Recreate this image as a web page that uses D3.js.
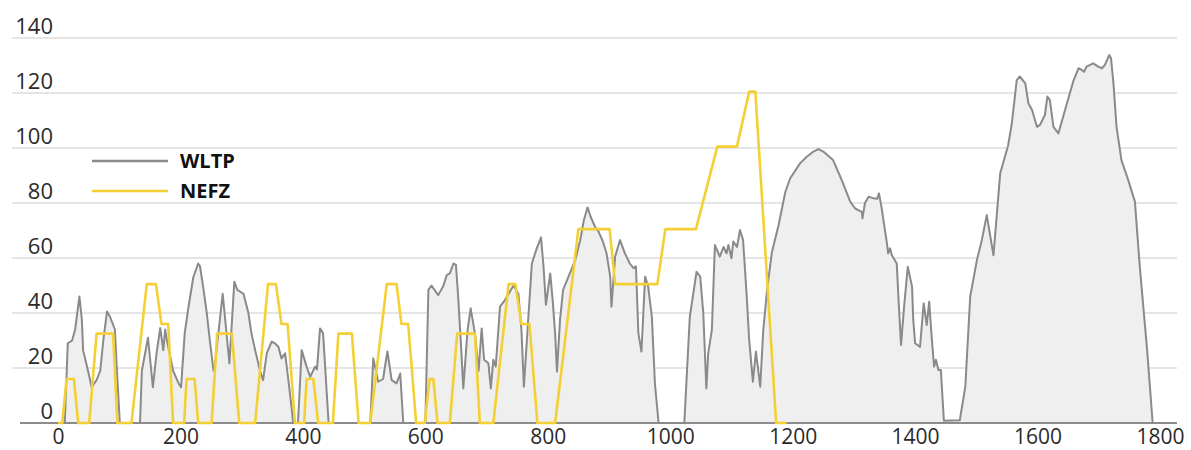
<!DOCTYPE html>
<html>
<head>
<meta charset="utf-8">
<script src="https://cdn.jsdelivr.net/npm/d3@7"></script>
<style>
  html, body { margin: 0; padding: 0; background: #fff; }
  svg { display: block; }
</style>
</head>
<body>
<svg id="chart" width="1191" height="450"></svg>
<script>
// ---- Data (time in s, speed in km/h) ----
const xTicks = [0, 200, 400, 600, 800, 1000, 1200, 1400, 1600, 1800];
const yTicks = [0, 20, 40, 60, 80, 100, 120, 140];
const seriesNames = ["WLTP", "NEFZ"];

const wltpT = [0,9,11,16,23,28,35,39,41,49,55,63,69,74,80,85,93,96,101,134,137,147,155,161,167,172,175,178,188,197,201,207,213,221,229,232,237,243,248,254,256,269,280,288,293,303,311,316,322,330,335,341,349,354,360,365,371,375,382,384,392,398,406,412,420,423,428,433,439,442,510,515,523,531,538,545,553,559,564,600,605,610,621,629,635,640,646,650,654,659,662,669,674,681,687,692,696,703,707,711,715,722,730,736,744,752,757,761,768,774,782,789,793,797,804,808,812,815,820,825,836,845,853,859,865,870,877,883,890,896,902,904,910,918,926,934,940,944,948,953,959,964,970,975,981,1023,1032,1043,1049,1054,1059,1062,1068,1073,1081,1087,1092,1095,1100,1103,1109,1114,1119,1125,1129,1135,1140,1147,1152,1158,1166,1177,1188,1196,1212,1223,1234,1242,1250,1266,1280,1294,1302,1313,1314,1318,1324,1332,1338,1341,1345,1354,1356,1359,1362,1370,1373,1377,1382,1388,1395,1397,1400,1408,1414,1419,1423,1427,1431,1434,1438,1442,1447,1473,1482,1490,1501,1509,1517,1528,1539,1552,1558,1566,1571,1580,1585,1591,1599,1604,1612,1616,1620,1626,1634,1648,1659,1667,1672,1676,1680,1691,1699,1705,1710,1717,1720,1724,1729,1737,1748,1759,1767,1779,1788];
const wltpV = [0,0,0,29,30,34,46,37.5,26.5,19,13,15.6,19,30,40.5,38.6,34,20,0,0,19,31,13,25.4,34.5,26.5,34,30,19,14.4,13,32.7,42,53,58,57,49.6,40,30,19,20.5,47,21.7,51.4,48.4,47,40,32.6,26.5,19,15.6,25.3,29.6,29,27.7,23.5,25.3,18,4.7,0,0,26.5,20.5,16.8,20.5,19.5,34.4,32.6,10.8,0,0,23.5,15,16,26,15.6,14.4,18,0,0,48.4,50,46.5,49.6,53.8,54.4,58,57.5,44.7,25.3,12.6,33.8,41.7,32.6,19,34.4,23,21.7,12.6,23,20.5,42.3,44.7,47,50,47,33.8,13.2,37.5,58,63.5,67.5,57,43,54.4,44.7,32.6,18.7,37.5,48.4,54.4,59.3,66.5,73.8,78.4,75,71.4,69.6,66,61.7,53.2,42.3,60.5,66.5,61.7,58,56.3,57,32.6,26,53.2,49.6,38.6,14.4,0,0,38.6,55,53.2,40,12.6,25.3,33.8,64.7,60.5,64,61.7,64.7,59.9,66,64,70.2,66.5,46,30.2,15,26,13.2,33.8,48,62,72,84,89,94.4,96.8,98.7,99.6,98.7,95.6,88.4,80.5,78,76.8,74.4,79.9,82.3,81.7,81.5,83.5,78.6,65.3,61.7,63.5,61,58,44.7,28.4,42.3,56.8,49.6,37.5,29,27.7,43.5,35.6,44.1,31.4,20.5,23,19.3,19.3,0.8,1,13.2,46,59.3,66.5,75.6,61,90.8,101,109,124.7,126,123.5,116.3,113.8,107.7,108.4,112,118.7,117.5,107.7,105.3,116.3,124.7,129,128.4,127.7,129.6,130.8,129.6,129,130.2,133.8,132.6,123.5,107.7,95.6,88.4,80.5,56.8,26.5,0];

const nefzT = [0,7,14,26,33,51,63,90,97,120,145,160,169,180,188,206,210,223,229,251,260,284,296,322,343,356,365,375,387,402,406,417,425,449,458,480,491,510,537,553,561,572,585,599,607,613,620,640,652,681,689,711,736,747,757,770,783,812,850,901,910,979,992,1042,1077,1109,1129,1139,1173,1190];
const nefzV = [0,0,16,16,0,0,32.5,32.5,0,0,50.5,50.5,36,36,0,0,16,16,0,0,32.5,32.5,0,0,50.5,50.5,36,36,0,0,16,16,0,0,32.5,32.5,0,0,50.5,50.5,36,36,0,0,16,16,0,0,32.5,32.5,0,0,50.5,50.5,36,36,0,0,70.5,70.5,50.5,50.5,70.5,70.5,100.5,100.5,120.5,120.5,0,0];

// ---- Chart ----
const svg = d3.select("#chart");
const W = 1191, H = 450;
svg.append("rect").attr("width", W).attr("height", H).attr("fill", "#fff");

const x = d3.scaleLinear().domain([0, 1800]).range([58, 1160]);
const y = d3.scaleLinear().domain([0, 140]).range([423, 38]);

const font = "'Open Sans', 'Noto Sans', sans-serif";

// gridlines
svg.append("g").selectAll("line")
  .data(yTicks.filter(d => d > 0))
  .join("line")
  .attr("x1", 12).attr("x2", 1177)
  .attr("y1", d => y(d)).attr("y2", d => y(d))
  .attr("stroke", "#dcdcdc").attr("stroke-width", 1.5);

const wltp = wltpT.map((t, i) => ({t, v: wltpV[i]}));
const nefz = nefzT.map((t, i) => ({t, v: nefzV[i]}));

svg.append("path")
  .datum(wltp)
  .attr("fill", "#efefef")
  .attr("d", d3.area().x(d => x(d.t)).y0(y(0)).y1(d => y(d.v)));

// baseline
svg.append("line")
  .attr("x1", 20).attr("x2", 1177)
  .attr("y1", y(0)).attr("y2", y(0))
  .attr("stroke", "#8c8c8c").attr("stroke-width", 2);

svg.append("path")
  .datum(wltp)
  .attr("fill", "none")
  .attr("stroke", "#8a8a8a")
  .attr("stroke-width", 2)
  .attr("stroke-linejoin", "round")
  .attr("d", d3.line().x(d => x(d.t)).y(d => y(d.v)));

svg.append("path")
  .datum(nefz)
  .attr("fill", "none")
  .attr("stroke", "#f4d034")
  .attr("stroke-width", 2.6)
  .attr("stroke-linejoin", "round")
  .attr("d", d3.line().x(d => x(d.t)).y(d => y(d.v)));

// y axis labels
const yAxis = svg.append("g")
  .attr("transform", "translate(53,0)")
  .call(d3.axisLeft(y).tickValues(yTicks).tickSize(0).tickPadding(0));
yAxis.select(".domain").remove();
yAxis.selectAll("text")
  .attr("x", 0).attr("dy", null).attr("y", -5)
  .attr("font-family", font).attr("font-size", 22).attr("fill", "#2a2a2a");

// x axis labels
const xAxis = svg.append("g")
  .attr("transform", `translate(0,${y(0)})`)
  .call(d3.axisBottom(x).tickValues(xTicks).tickSize(0).tickFormat(d3.format("d")));
xAxis.select(".domain").remove();
xAxis.selectAll("text")
  .attr("dy", null).attr("y", 21)
  .attr("font-family", font).attr("font-size", 21).attr("fill", "#2a2a2a");

// legend
const legendColors = ["#8a8a8a", "#f4d034"];
const lg = svg.append("g").attr("transform", "translate(92,161)");
seriesNames.forEach((name, i) => {
  const g = lg.append("g").attr("transform", `translate(0,${i * 30})`);
  g.append("line").attr("x1", 0).attr("x2", 76).attr("y1", 0).attr("y2", 0)
    .attr("stroke", legendColors[i]).attr("stroke-width", 2.6);
  g.append("text").attr("x", 88).attr("y", 7)
    .attr("font-family", font).attr("font-weight", 700).attr("font-size", 20)
    .attr("fill", "#111").text(name);
});
</script>
</body>
</html>
